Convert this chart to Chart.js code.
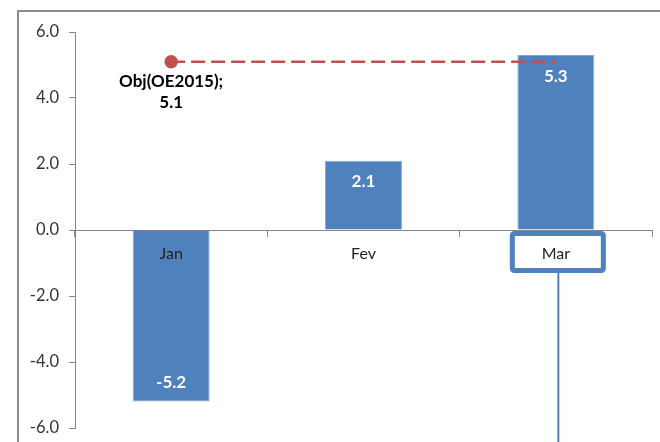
<!DOCTYPE html>
<html>
<head>
<meta charset="utf-8">
<script src="https://cdn.jsdelivr.net/npm/chart.js@4/dist/chart.umd.min.js"></script>
<style>
html,body{margin:0;padding:0;background:#fff;}
#wrap{width:660px;height:442px;}
</style>
</head>
<body>
<div id="wrap"><canvas id="c" width="660" height="442"></canvas></div>
<script>
const categories = ['Jan', 'Fev', 'Mar'];
const values = [-5.2, 2.1, 5.3];
const objective = [5.1, 5.1, 5.1];
const objectivePoints = [1, 0, 0];
const objectiveLabel = ['Obj(OE2015);', '5.1'];
const yTicks = [-6, -4, -2, 0, 2, 4, 6];
const highlightedCategory = 'Mar';

const BLUE = '#4F81BD';
const RED = '#C0504D';
const AXIS = '#868686';
const FONT = 'Lato';

const decorPlugin = {
  id: 'decor',
  beforeDraw(chart) {
    const ctx = chart.ctx;
    ctx.save();
    ctx.strokeStyle = '#8c8c8c';
    ctx.lineWidth = 2;
    ctx.beginPath();
    ctx.moveTo(18, 442);
    ctx.lineTo(18, 11);
    ctx.lineTo(660, 11);
    ctx.stroke();
    ctx.restore();
  },
  afterDatasetsDraw(chart) {
    const ctx = chart.ctx;
    ctx.save();
    const bars = chart.getDatasetMeta(0).data;
    ctx.fillStyle = '#ffffff';
    ctx.font = 'bold 17px ' + FONT;
    ctx.textAlign = 'center';
    ctx.textBaseline = 'middle';
    bars.forEach((el, i) => {
      const v = values[i];
      const y = v >= 0 ? el.y + 21 : el.y - 19;
      ctx.fillText(v.toFixed(1), el.x, y);
    });
    const pt = chart.getDatasetMeta(1).data[0];
    ctx.fillStyle = '#000000';
    ctx.font = 'bold 17px ' + FONT;
    objectiveLabel.forEach((t, k) => {
      ctx.fillText(t, pt.x, pt.y + 20 + k * 21);
    });
    ctx.restore();
  },
  afterDraw(chart) {
    const ctx = chart.ctx;
    const xs = chart.scales.x;
    const ys = chart.scales.y;
    const idx = categories.indexOf(highlightedCategory);
    const cx = xs.getPixelForValue(idx) + 2;
    const y0 = ys.getPixelForValue(0);
    ctx.save();
    ctx.strokeStyle = BLUE;
    ctx.lineWidth = 5;
    ctx.beginPath();
    if (ctx.roundRect) ctx.roundRect(cx - 45.5, y0 + 3.5, 91, 37, 2);
    else ctx.rect(cx - 45.5, y0 + 3.5, 91, 37);
    ctx.stroke();
    ctx.lineWidth = 2;
    ctx.beginPath();
    ctx.moveTo(cx + 0.5, y0 + 43);
    ctx.lineTo(cx + 0.5, 442);
    ctx.stroke();
    ctx.restore();
  }
};

new Chart(document.getElementById('c'), {
  data: {
    labels: categories,
    datasets: [
      {
        type: 'bar',
        data: values,
        backgroundColor: BLUE,
        borderColor: '#86a8d6',
        borderWidth: 1,
        barPercentage: 0.8,
        categoryPercentage: 0.5,
        order: 1
      },
      {
        type: 'line',
        data: objective,
        borderColor: RED,
        borderWidth: 2.5,
        borderDash: [14, 6],
        backgroundColor: RED,
        pointBackgroundColor: RED,
        pointBorderColor: RED,
        pointRadius: objectivePoints.map(p => p ? 5.5 : 0),
        pointHoverRadius: 0,
        fill: false,
        tension: 0,
        order: 0
      }
    ]
  },
  options: {
    responsive: false,
    animation: false,
    events: [],
    layout: { padding: { left: 0, top: 32, right: 4, bottom: 14 } },
    plugins: { legend: { display: false }, tooltip: { enabled: false } },
    scales: {
      x: {
        type: 'category',
        position: { y: 0 },
        offset: true,
        afterFit(scale) { scale.height = 0; scale.paddingTop = 0; scale.paddingBottom = 0; },
        grid: { offset: true, drawOnChartArea: false, drawTicks: true, tickLength: 6, color: AXIS },
        border: { color: AXIS, width: 1 },
        ticks: { z: 1, color: '#222222', font: { family: FONT, size: 16 }, padding: 8, maxRotation: 0 }
      },
      y: {
        min: -6,
        max: 6,
        afterBuildTicks(scale) { scale.ticks = yTicks.map(v => ({ value: v })); },
        afterFit(scale) { scale.width = 75; scale.paddingTop = 0; scale.paddingBottom = 0; },
        grid: { drawOnChartArea: false, drawTicks: true, tickLength: 6, color: AXIS },
        border: { color: AXIS, width: 1 },
        ticks: {
          color: '#333333',
          font: { family: FONT, size: 16.5 },
          padding: 10,
          callback: v => Number(v).toFixed(1)
        }
      }
    }
  },
  plugins: [decorPlugin]
});
</script>
</body>
</html>
